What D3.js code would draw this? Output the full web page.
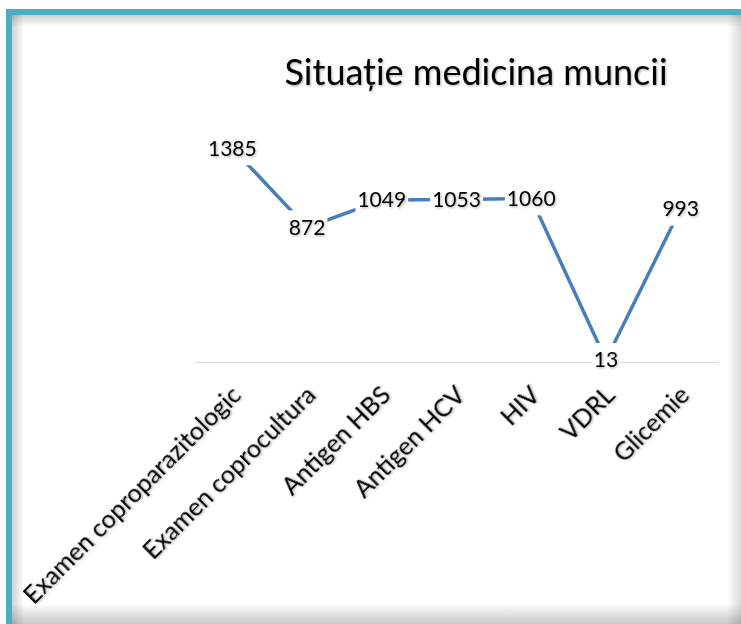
<!DOCTYPE html>
<html>
<head>
<meta charset="utf-8">
<script src="https://cdn.jsdelivr.net/npm/d3@7"></script>
<style>
  body { margin: 0; background: #fff; }
  svg text { font-family: Lato, "Open Sans", sans-serif; fill: #000; }
</style>
</head>
<body>
<svg id="chart" width="741" height="624"></svg>
<script>
// chart data
const categories = ['Examen coproparazitologic', 'Examen coprocultura', 'Antigen HBS',
  'Antigen HCV', 'HIV', 'VDRL', 'Glicemie'];
const values = [1385, 872, 1049, 1053, 1060, 13, 993];
const title = 'Situație medicina muncii';

const svg = d3.select('#chart');
const width = +svg.attr('width');
const height = +svg.attr('height');
const plot = { left: 195, right: 718, top: 115, bottom: 362 };

const defs = svg.append('defs');
function grad(id, x2, y2, from, to) {
  const g = defs.append('linearGradient').attr('id', id)
    .attr('x1', 0).attr('y1', 0).attr('x2', x2).attr('y2', y2);
  g.append('stop').attr('offset', 0).attr('stop-color', '#000').attr('stop-opacity', from);
  g.append('stop').attr('offset', 1).attr('stop-color', '#000').attr('stop-opacity', to);
}
grad('shTop', 0, 1, 0.18, 0);
grad('shLeft', 1, 0, 0.18, 0);
grad('shRight', 1, 0, 0, 0.14);
grad('shBottom', 0, 1, 0, 0.22);

const shadow = defs.append('filter').attr('id', 'txtShadow')
  .attr('x', '-10%').attr('y', '-10%').attr('width', '120%').attr('height', '130%');
shadow.append('feDropShadow').attr('dx', 1).attr('dy', 1.2)
  .attr('stdDeviation', 0.8).attr('flood-color', '#000').attr('flood-opacity', 0.3);

// frame
svg.append('rect').attr('x', 0).attr('y', 0).attr('width', width).attr('height', height).attr('fill', '#fff');
svg.append('rect').attr('x', 12).attr('y', 15).attr('width', width - 12).attr('height', 12).attr('fill', 'url(#shTop)');
svg.append('rect').attr('x', 12).attr('y', 15).attr('width', 12).attr('height', height - 15).attr('fill', 'url(#shLeft)');
svg.append('rect').attr('x', width - 14).attr('y', 15).attr('width', 14).attr('height', height - 15).attr('fill', 'url(#shRight)');
svg.append('rect').attr('x', 12).attr('y', height - 20).attr('width', width - 12).attr('height', 20).attr('fill', 'url(#shBottom)');
svg.append('rect').attr('x', 6).attr('y', 9).attr('width', width - 6).attr('height', 6).attr('fill', '#4bacc6');
svg.append('rect').attr('x', 6).attr('y', 9).attr('width', 6).attr('height', height - 9).attr('fill', '#4bacc6');

// title
svg.append('text')
  .attr('x', 476).attr('y', 85)
  .attr('text-anchor', 'middle')
  .style('font-size', '36px')
  .attr('filter', 'url(#txtShadow)')
  .text(title);

const x = d3.scalePoint()
  .domain(categories)
  .range([plot.left, plot.right])
  .padding(0.5);

const y = d3.scaleLinear()
  .domain([0, 1600])
  .range([plot.bottom, plot.top]);

// category axis
const xAxis = svg.append('g')
  .attr('transform', `translate(0, ${y(0)})`)
  .call(d3.axisBottom(x).tickSize(0).tickPadding(0));
xAxis.select('.domain').attr('stroke', '#d9d9d9').attr('stroke-width', 1.2);
xAxis.selectAll('.tick text')
  .attr('x', 0).attr('y', 0)
  .attr('dy', '0.72em')
  .attr('transform', 'translate(-3, 22) rotate(-45)')
  .style('text-anchor', 'end')
  .style('font-size', '25px')
  .style('font-family', 'Lato, "Open Sans", sans-serif')
  .attr('fill', '#000')
  .attr('filter', 'url(#txtShadow)');

// series line
const line = d3.line()
  .x((d, i) => x(categories[i]))
  .y(d => y(d));

svg.append('path')
  .datum(values)
  .attr('fill', 'none')
  .attr('stroke', '#4a7ebb')
  .attr('stroke-width', 3.5)
  .attr('d', line);

// data labels with white box (hides the line underneath)
const labels = svg.selectAll('.lbl')
  .data(values)
  .enter().append('g')
  .attr('class', 'lbl')
  .attr('transform', (d, i) => `translate(${x(categories[i])}, ${y(d)})`);

labels.append('text')
  .attr('text-anchor', 'middle')
  .attr('dy', '0.35em')
  .style('font-size', '21px')
  .attr('filter', 'url(#txtShadow)')
  .text(d => d);

labels.each(function () {
  const g = d3.select(this);
  const bb = g.select('text').node().getBBox();
  g.insert('rect', 'text')
    .attr('x', bb.x - 2).attr('y', -17)
    .attr('width', bb.width + 4).attr('height', 34)
    .attr('fill', '#fff');
});
</script>
</body>
</html>
